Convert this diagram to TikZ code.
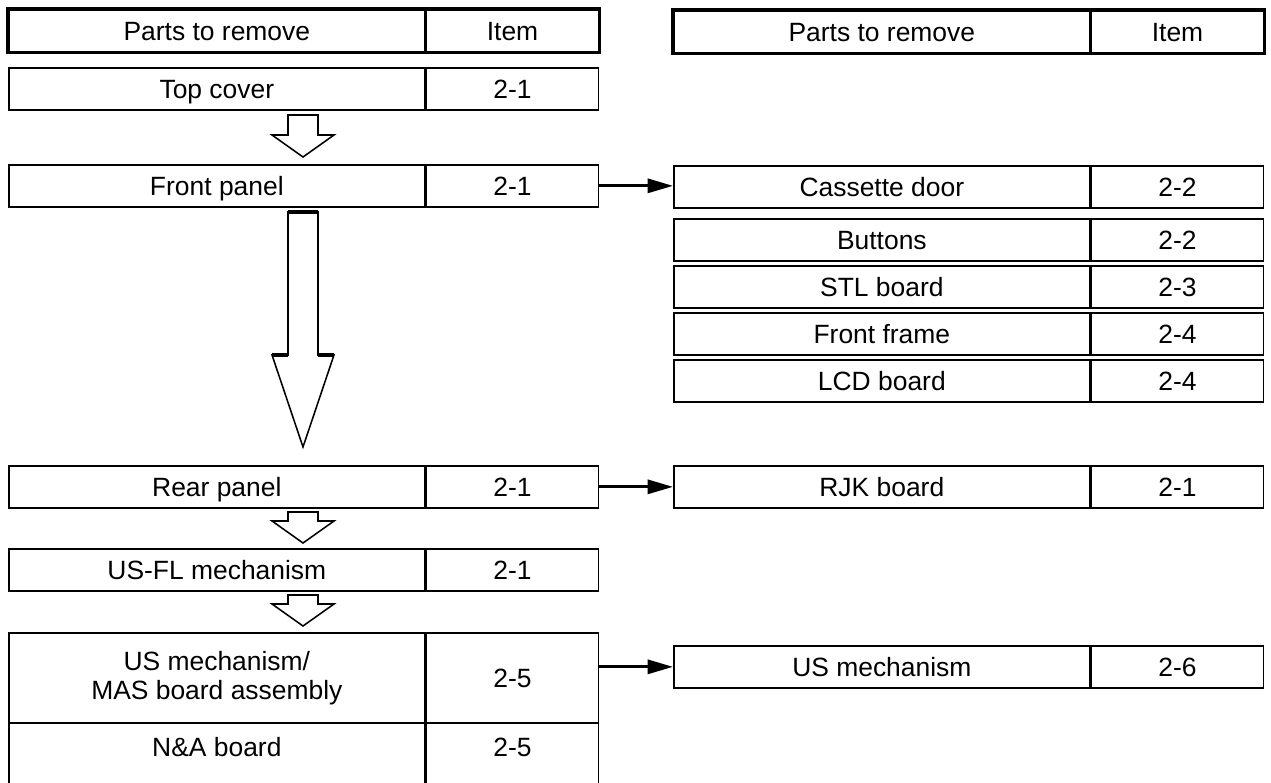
\documentclass[tikz,border=0pt]{standalone}
\usepackage{fontspec}
\setmainfont{Liberation Sans}
\usepackage{tikz}
\usetikzlibrary{arrows.meta,positioning,calc}
\tikzset{
  cellbox/.style={draw, line width=1.2pt, minimum height=1.05cm, inner sep=0pt,
    anchor=north west, align=center, font=\fontsize{18.8}{20.5}\selectfont},
  oneline/.style={text height=13.5pt, text depth=0pt},
  partcell/.style={cellbox, minimum width=10.4cm},
  itemcell/.style={cellbox, oneline, minimum width=4.3cm},
  headframe/.style={line width=2.4pt},
  linkln/.style={-{Triangle[length=18pt,width=10pt]}, line width=2pt},
  blockln/.style={line width=1.1pt, line join=miter},
  capln/.style={line width=2.8pt},
}
% block arrow down the left column: shaft top, head base, tip
\newcommand{\blockarrow}[3]{%
  \draw[blockln] (7.2,#1) -- (7.2,#2) -- (6.8,#2) -- (7.575,#3)
    -- (8.35,#2) -- (7.95,#2) -- (7.95,#1) -- cycle;
}

\begin{document}
\begin{tikzpicture}[scale=1.0]
    \clip (0,0) rectangle (31.775,-19.575);
    \fill[white] (0,0) rectangle (31.775,-19.575);

    % left column
    \node[partcell, oneline] (hdl) at (0.2,-0.225) {Parts to remove};
    \node[itemcell] (hdl-i) at (hdl.north east) {Item};
    \draw[headframe] (hdl.north west) rectangle (hdl-i.south east);

    \node[partcell, oneline] (topcov) at (0.2,-1.675) {Top cover};
    \node[itemcell] (topcov-i) at (topcov.north east) {2-1};
    \node[partcell, oneline] (front) at (0.2,-4.1) {Front panel};
    \node[itemcell] (front-i) at (front.north east) {2-1};
    \node[partcell, oneline] (rear) at (0.2,-11.625) {Rear panel};
    \node[itemcell] (rear-i) at (rear.north east) {2-1};
    \node[partcell, oneline] (usfl) at (0.2,-13.7) {US-FL mechanism};
    \node[itemcell] (usfl-i) at (usfl.north east) {2-1};
    \node[partcell, minimum height=2.25cm] (usmas) at (0.2,-15.8)
      {US mechanism/\\MAS board assembly};
    \node[itemcell, minimum height=2.25cm] (usmas-i) at (usmas.north east) {2-5};
    \node[partcell, minimum height=1.7cm, text height=13.5pt, text depth=0.5cm] (na) at (0.2,-18.05) {N\&A board};
    \node[itemcell, minimum height=1.7cm, text depth=0.5cm] (na-i) at (na.north east) {2-5};

    % order of removal
    \blockarrow{-2.875}{-3.375}{-3.925}
    \blockarrow{-5.3}{-8.875}{-11.175}
    \draw[capln] (7.2,-5.3) -- (7.95,-5.3);
    \draw[capln] (6.8,-8.875) -- (7.2,-8.875) (7.95,-8.875) -- (8.35,-8.875);
    \blockarrow{-12.8}{-13.025}{-13.575}
    \blockarrow{-14.875}{-15.1}{-15.65}

    % right column
    \node[partcell, oneline] (hdr) at (16.825,-0.25) {Parts to remove};
    \node[itemcell] (hdr-i) at (hdr.north east) {Item};
    \draw[headframe] (hdr.north west) rectangle (hdr-i.south east);

    \node[partcell, oneline] (cass) at (16.825,-4.125) {Cassette door};
    \node[itemcell] (cass-i) at (cass.north east) {2-2};
    \node[partcell, oneline] (btn) at (16.825,-5.45) {Buttons};
    \node[itemcell] (btn-i) at (btn.north east) {2-2};
    \node[partcell, oneline] (stl) at (16.825,-6.625) {STL board};
    \node[itemcell] (stl-i) at (stl.north east) {2-3};
    \node[partcell, oneline] (ffr) at (16.825,-7.8) {Front frame};
    \node[itemcell] (ffr-i) at (ffr.north east) {2-4};
    \node[partcell, oneline] (lcd) at (16.825,-8.975) {LCD board};
    \node[itemcell] (lcd-i) at (lcd.north east) {2-4};
    \node[partcell, oneline] (rjk) at (16.825,-11.625) {RJK board};
    \node[itemcell] (rjk-i) at (rjk.north east) {2-1};
    \node[partcell, oneline] (usm) at (16.825,-16.125) {US mechanism};
    \node[itemcell] (usm-i) at (usm.north east) {2-6};

    % links
    \draw[linkln] (front-i.east) -- (front-i.east -| cass.west);
    \draw[linkln] (rear-i.east) -- (rjk.west);
    \draw[linkln] (usmas-i.east |- usm.west) -- (usm.west);
\end{tikzpicture}
\end{document}
